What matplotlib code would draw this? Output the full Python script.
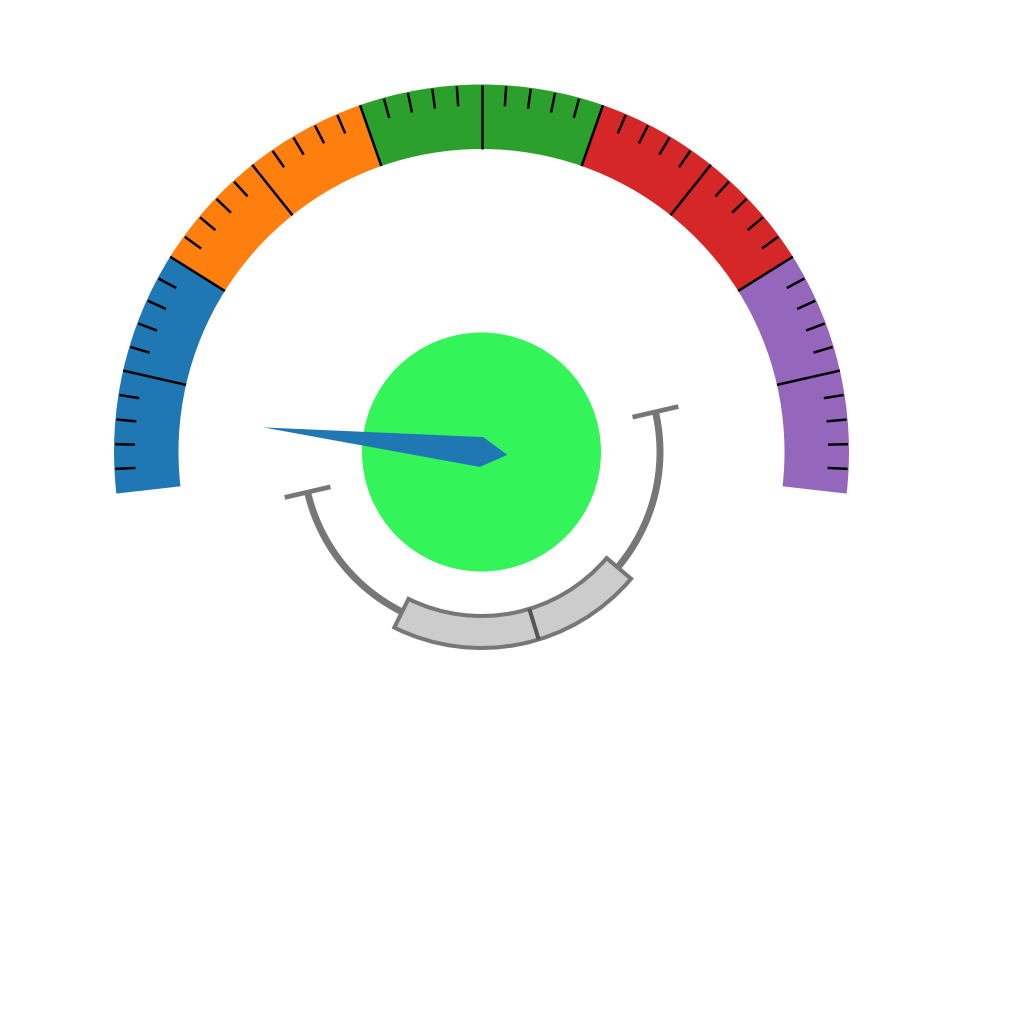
import numpy as np
import matplotlib
matplotlib.use('Agg')
import matplotlib.pyplot as plt
from matplotlib.patches import Wedge, Polygon, Circle

# outer gauge: value scale and coloured bands
gauge_min = 0
gauge_max = 100
band_edges = [0, 20, 40, 60, 80, 100]
band_colors = ['#1f77b4', '#ff7f0e', '#2ca02c', '#d62728', '#9467bd']
major_ticks = [10, 20, 30, 40, 50, 60, 70, 80, 90]
minor_ticks = [v for v in range(2, 100, 2) if v % 10 != 0]
needle_value = 6.7

# inner range arc (its own 0..100 scale)
range_min = 0
range_max = 100
range_band = [28.1, 70.4]
range_marker = 52.2

# geometry (pixels, centre of gauge at 0,0)
start_ang, end_ang = 186.5, -6.5
r_out, r_in = 367.5, 303
inner_start, inner_end = 193, 373
r_arc = 178.5


def val2ang(v):
    return start_ang + (v - gauge_min) / (gauge_max - gauge_min) * (end_ang - start_ang)


def rval2ang(v):
    return inner_start + (v - range_min) / (range_max - range_min) * (inner_end - inner_start)


def polar(r, ang):
    a = np.radians(ang)
    return r * np.cos(a), r * np.sin(a)


fig = plt.figure(figsize=(10.24, 10.24), dpi=100)
ax = fig.add_axes([0, 0, 1, 1])
ax.set_xlim(-481.5, 542.5)
ax.set_ylim(-572, 452)
ax.set_aspect('equal')
ax.axis('off')

# coloured bands
for i in range(len(band_colors)):
    a1 = val2ang(band_edges[i + 1])
    a2 = val2ang(band_edges[i])
    ax.add_patch(Wedge((0, 0), r_out, a1, a2, width=r_out - r_in,
                       facecolor=band_colors[i], edgecolor='none', zorder=1))

# ticks
for v in major_ticks:
    a = val2ang(v)
    x0, y0 = polar(r_in, a)
    x1, y1 = polar(r_out, a)
    ax.plot([x0, x1], [y0, y1], color='black', lw=1.8, zorder=2, solid_capstyle='butt')
for v in minor_ticks:
    a = val2ang(v)
    x0, y0 = polar(r_out - 21, a)
    x1, y1 = polar(r_out - 1, a)
    ax.plot([x0, x1], [y0, y1], color='black', lw=1.8, zorder=2, solid_capstyle='butt')

# inner range arc with radial end caps
t = np.linspace(inner_start, inner_end, 300)
ax.plot(r_arc * np.cos(np.radians(t)), r_arc * np.sin(np.radians(t)),
        color='#777777', lw=5, zorder=2, solid_capstyle='butt')
for a in (inner_start, inner_end):
    x0, y0 = polar(r_arc - 23.5, a)
    x1, y1 = polar(r_arc + 23.5, a)
    ax.plot([x0, x1], [y0, y1], color='#777777', lw=3.4,
            zorder=2, solid_capstyle='butt')

# range band
b1 = rval2ang(range_band[0])
b2 = rval2ang(range_band[1])
ax.add_patch(Wedge((0, 0), 196, b1, b2, width=32, facecolor='#cccccc',
                   edgecolor='#777777', lw=2.9, zorder=3))
am = rval2ang(range_marker)
x0, y0 = polar(164, am)
x1, y1 = polar(196, am)
ax.plot([x0, x1], [y0, y1], color='#555555', lw=2.9, zorder=4, solid_capstyle='butt')

# centre disc
ax.add_patch(Circle((0, 0), 119.5, facecolor='#33f559', edgecolor='none', zorder=3))

# needle
na = np.radians(val2ang(needle_value))
u = np.array([np.cos(na), np.sin(na)])
n = np.array([-np.sin(na), np.cos(na)])
pts = [u * 219.5, n * 15, -u * 26, -n * 15]
ax.add_patch(Polygon(pts, closed=True, facecolor='#1f77b4', edgecolor='none', zorder=5))

fig.savefig('out.png', dpi=100)
